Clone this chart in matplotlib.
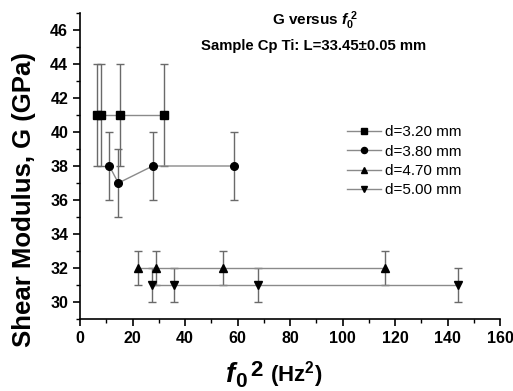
import matplotlib
matplotlib.use("Agg")
import matplotlib.pyplot as plt
from matplotlib.ticker import MultipleLocator

plt.rcParams['font.family'] = ['Liberation Sans', 'DejaVu Sans']
plt.rcParams['mathtext.fontset'] = 'custom'
plt.rcParams['mathtext.rm'] = 'Liberation Sans:bold'
plt.rcParams['mathtext.it'] = 'Liberation Sans:bold:italic'
plt.rcParams['mathtext.bf'] = 'Liberation Sans:bold'

labels = ["d=3.20 mm", "d=3.80 mm", "d=4.70 mm", "d=5.00 mm"]
markers = ["s", "o", "^", "v"]
x_vals = [
    [6.4, 8.0, 15.2, 31.9],
    [11.2, 14.6, 27.7, 58.5],
    [22.0, 29.0, 54.4, 116.0],
    [27.3, 35.7, 67.8, 143.9],
]
g_vals = [
    [41, 41, 41, 41],
    [38, 37, 38, 38],
    [32, 32, 32, 32],
    [31, 31, 31, 31],
]
g_err = [
    [3, 3, 3, 3],
    [2, 2, 2, 2],
    [1, 1, 1, 1],
    [1, 1, 1, 1],
]

W, H = 513, 391
fig = plt.figure(figsize=(W / 100, H / 100), dpi=100)
ax = fig.add_axes([80 / W, 1 - 319.3 / H, 420 / W, (319.3 - 12.7) / H])

handles = []
for xs, ys, es, m, lab in zip(x_vals, g_vals, g_err, markers, labels):
    ax.errorbar(xs, ys, yerr=es, fmt='none', ecolor='#6a6a6a', elinewidth=1.0,
                capsize=3, capthick=1.0, zorder=2)
    h, = ax.plot(xs, ys, color='#8a8a8a', lw=1.0, marker=m, markersize=5.5,
                 markerfacecolor='black', markeredgecolor='black', label=lab, zorder=3)
    handles.append(h)

ax.set_xlim(0, 160)
ax.set_ylim(29, 47)
ax.xaxis.set_major_locator(MultipleLocator(20))
ax.xaxis.set_minor_locator(MultipleLocator(10))
ax.yaxis.set_minor_locator(MultipleLocator(1))
ax.set_yticks(range(30, 47, 2))
ax.spines['top'].set_visible(False)
ax.spines['right'].set_visible(False)
for s in ['left', 'bottom']:
    ax.spines[s].set_linewidth(1.2)
ax.tick_params(which='major', direction='out', length=5, width=1.2, labelsize=11.5)
ax.tick_params(which='minor', direction='out', length=3, width=1.0)
for t in ax.get_xticklabels() + ax.get_yticklabels():
    t.set_fontweight('bold')

# y-axis label
fig.text(24 / W, 1 - 200 / H, "Shear Modulus, G (GPa)", rotation=90, fontsize=18.5,
         fontweight='bold', ha='center', va='center')

# x-axis label: f0^2 (Hz^2)
fig.text(226 / W, 1 - 382 / H, "f", fontsize=20, fontweight='bold', style='italic',
         ha='left', va='baseline')
fig.text(235 / W, 1 - 387 / H, "0", fontsize=15, fontweight='bold',
         ha='left', va='baseline')
fig.text(250 / W, 1 - 376 / H, "2", fontsize=16, fontweight='bold',
         ha='left', va='baseline')
fig.text(270 / W, 1 - 382 / H, r"(Hz$^{\mathbf{2}}$)", fontsize=16, fontweight='bold',
         ha='left', va='baseline')

# in-plot titles
fig.text(315 / W, 1 - 25 / H, r"G versus $f_{\mathit{0}}^{\ \mathbf{2}}$", fontsize=11,
         fontweight='bold', ha='center', va='baseline')
fig.text(313.5 / W, 1 - 50 / H, "Sample Cp Ti: L=33.45\u00b10.05 mm",
         fontsize=10.7, fontweight='bold', ha='center', va='baseline')

leg = ax.legend(handles=handles, loc='upper left', bbox_to_anchor=(347 / W, 1 - 125 / H),
                bbox_transform=fig.transFigure, frameon=False, fontsize=11,
                handlelength=2.2, handletextpad=0.3, labelspacing=0.36,
                borderpad=0, borderaxespad=0, markerscale=0.8)

fig.savefig("out.png", dpi=100)
